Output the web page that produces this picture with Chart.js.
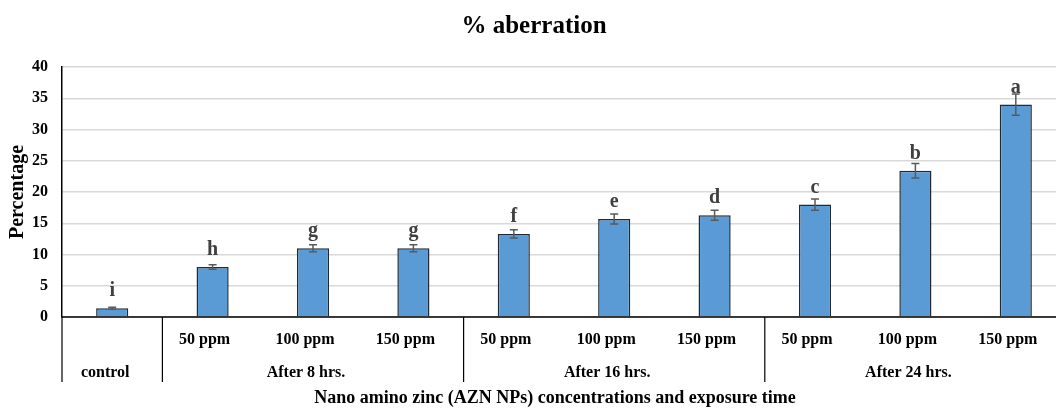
<!DOCTYPE html>
<html>
<head>
<meta charset="utf-8">
<script src="https://cdn.jsdelivr.net/npm/chart.js@4/dist/chart.umd.min.js"></script>
<style>
html,body{margin:0;padding:0;background:#fff;overflow:hidden;width:1056px;height:408px;}
canvas{display:block;}
</style>
</head>
<body>
<canvas id="c" width="1080" height="408" style="width:1080px;height:408px"></canvas>
<script>
const concLabels = ['', '50 ppm', '100 ppm', '150 ppm', '50 ppm', '100 ppm', '150 ppm', '50 ppm', '100 ppm', '150 ppm'];
const groupLabels = ['control', 'After 8 hrs.', 'After 16 hrs.', 'After 24 hrs.'];
const groupSizes = [1, 3, 3, 3];
const values = [1.4, 8.0, 11.0, 11.0, 13.3, 15.7, 16.3, 18.0, 23.4, 34.0];
const errors = [0.15, 0.35, 0.55, 0.55, 0.65, 0.8, 0.8, 0.9, 1.15, 1.7];
const letters = ['i', 'h', 'g', 'g', 'f', 'e', 'd', 'c', 'b', 'a'];
const yTicks = [0, 5, 10, 15, 20, 25, 30, 35, 40];
const titleText = '% aberration';
const yTitle = 'Percentage';
const xTitle = 'Nano amino zinc (AZN NPs) concentrations and exposure time';

const FONT = '"Liberation Serif", "Times New Roman", serif';

const extras = {
  id: 'extras',
  afterDatasetsDraw(chart) {
    const ctx = chart.ctx;
    const meta = chart.getDatasetMeta(0);
    const y = chart.scales.y;
    ctx.save();
    meta.data.forEach((bar, i) => {
      const v = values[i], e = errors[i];
      const yTop = y.getPixelForValue(v + e), yBot = y.getPixelForValue(v - e);
      ctx.strokeStyle = '#5a5a5a';
      ctx.lineWidth = 1.5;
      ctx.beginPath();
      ctx.moveTo(bar.x, yTop); ctx.lineTo(bar.x, yBot);
      ctx.moveTo(bar.x - 4, yTop); ctx.lineTo(bar.x + 4, yTop);
      ctx.moveTo(bar.x - 4, yBot); ctx.lineTo(bar.x + 4, yBot);
      ctx.stroke();
      ctx.fillStyle = '#404040';
      ctx.font = 'bold 20px ' + FONT;
      ctx.textAlign = 'center';
      ctx.textBaseline = 'alphabetic';
      ctx.fillText(letters[i], bar.x, y.getPixelForValue(v) - 12);
    });
    ctx.restore();
  },
  afterDraw(chart) {
    const ctx = chart.ctx;
    const x = chart.scales.x;
    const area = chart.chartArea;
    const n = values.length;
    const half = (x.getPixelForValue(1) - x.getPixelForValue(0)) / 2;
    ctx.save();
    ctx.strokeStyle = '#000';
    ctx.lineWidth = 1.5;
    ctx.beginPath();
    ctx.moveTo(area.left, area.bottom); ctx.lineTo(area.right, area.bottom);
    ctx.stroke();
    ctx.lineWidth = 1.2;
    let idx = 0;
    const sepBottom = area.bottom + 65;
    ctx.beginPath();
    ctx.moveTo(area.left, area.bottom); ctx.lineTo(area.left, sepBottom);
    groupSizes.forEach((s) => {
      idx += s;
      const px = x.getPixelForValue(idx - 1) + half;
      ctx.moveTo(px, area.bottom); ctx.lineTo(px, sepBottom);
    });
    ctx.stroke();
    ctx.fillStyle = '#000';
    ctx.font = 'bold 16px ' + FONT;
    ctx.textAlign = 'center';
    ctx.textBaseline = 'middle';
    for (let i = 0; i < n; i++) {
      if (concLabels[i]) ctx.fillText(concLabels[i], x.getPixelForValue(i) - 8, area.bottom + 23);
    }
    idx = 0;
    groupLabels.forEach((g, k) => {
      const start = idx, end = idx + groupSizes[k] - 1;
      const cx = (x.getPixelForValue(start) + x.getPixelForValue(end)) / 2;
      ctx.fillText(g, cx - 7, area.bottom + 56);
      idx += groupSizes[k];
    });
    ctx.font = 'bold 18px ' + FONT;
    ctx.fillText(xTitle, (area.left + area.right) / 2 - 9, area.bottom + 81);
    ctx.font = 'bold 25px ' + FONT;
    ctx.fillText(titleText, 534, 27);
    ctx.save();
    ctx.translate(18, (area.top + area.bottom) / 2);
    ctx.rotate(-Math.PI / 2);
    ctx.font = 'bold 20px ' + FONT;
    ctx.fillText(yTitle, 0, 0);
    ctx.restore();
    ctx.restore();
  }
};

new Chart(document.getElementById('c'), {
  type: 'bar',
  data: {
    labels: concLabels.map((c, i) => c || groupLabels[0]),
    datasets: [{
      data: values,
      backgroundColor: '#5B9BD5',
      borderColor: '#1f2a36',
      borderWidth: 1.5,
      categoryPercentage: 1,
      barPercentage: 0.32
    }]
  },
  options: {
    responsive: false,
    devicePixelRatio: 1,
    animation: false,
    layout: { padding: { top: 67, right: 14, left: 0, bottom: 0 } },
    plugins: { legend: { display: false }, title: { display: false }, tooltip: { enabled: false } },
    scales: {
      x: {
        ticks: { display: false },
        grid: { display: false },
        border: { display: false },
        afterFit(s) { s.height = 91; }
      },
      y: {
        min: 0, max: 40,
        afterBuildTicks(s) { s.ticks = yTicks.map(v => ({ value: v })); },
        ticks: { color: '#000', font: { family: FONT, size: 16, weight: 'bold' }, padding: 14 },
        grid: { color: '#d9d9d9', lineWidth: 1.5, drawTicks: false },
        border: { display: true, color: '#000', width: 1.5 },
        afterFit(s) { s.width = 62; }
      }
    }
  },
  plugins: [extras]
});
</script>
</body>
</html>
